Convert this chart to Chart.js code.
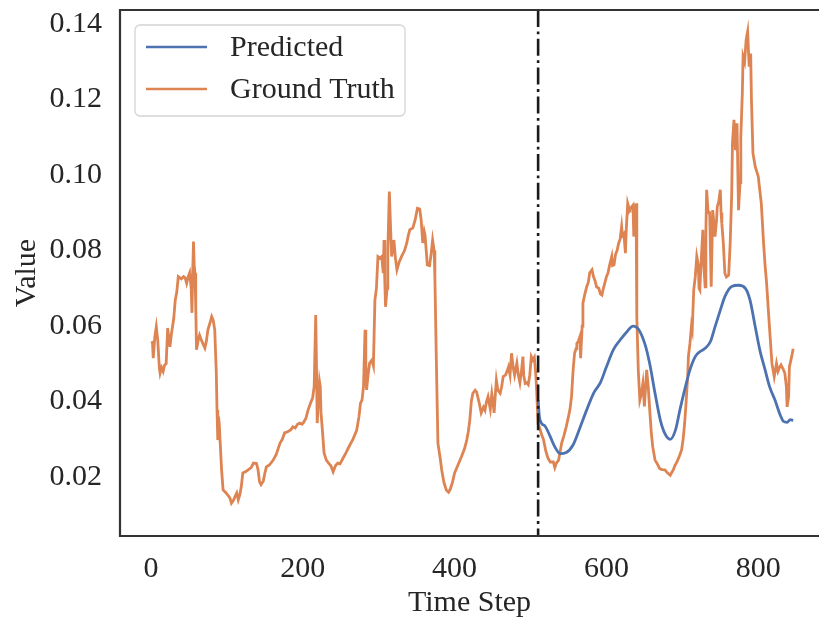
<!DOCTYPE html>
<html>
<head>
  <title>Predicted vs Ground Truth</title>
  <script src="https://cdn.jsdelivr.net/npm/chart.js"></script>
  <style>
    html, body { margin: 0; padding: 0; background: #fff; overflow: hidden; }
  </style>
</head>
<body>
  <canvas id="seriesChart" width="819" height="628"></canvas>

  <script>
    // values
    const truthSteps = [
      1, 2, 3, 5, 7, 9, 11, 12, 14, 16, 18, 20, 22, 24, 25, 27, 30, 32, 34, 36,
      40, 43, 45, 47, 49, 51, 53, 54, 55, 56, 57, 58, 59, 60, 62, 64, 67, 71, 73, 75,
      78, 80, 82, 84, 86, 87, 88, 89, 90, 91, 93, 95, 99, 102, 104, 106, 109, 111, 113, 115,
      117, 119, 121, 125, 128, 132, 135, 139, 141, 143, 145, 148, 150, 152, 156, 161, 165, 170, 173, 176,
      180, 184, 187, 190, 193, 196, 199, 201, 204, 207, 210, 213, 215, 217, 218, 219, 221, 222, 223, 224,
      226, 228, 231, 234, 237, 240, 243, 246, 249, 253, 257, 262, 266, 271, 274, 276, 278, 280, 282, 283,
      284, 286, 288, 291, 293, 295, 297, 299, 302, 304, 306, 307, 308, 309, 311, 312, 314, 316, 317, 319,
      320, 322, 324, 327, 330, 334, 337, 339, 341, 345, 348, 351, 354, 356, 358, 360, 361, 363, 364, 367,
      369, 371, 373, 374, 376, 378, 381, 383, 386, 389, 392, 394, 397, 400, 404, 409, 413, 416, 418, 420,
      422, 424, 427, 429, 432, 435, 438, 440, 442, 444, 447, 449, 451, 452, 454, 455, 457, 460, 462, 464,
      467, 469, 471, 473, 475, 477, 479, 482, 484, 486, 488, 490, 491, 493, 495, 497, 499, 501, 503, 505,
      507, 508, 510, 512, 515, 517, 520, 523, 526, 530, 532, 534, 537, 541, 544, 547, 550, 552, 554, 556,
      558, 560, 561, 563, 565, 566, 568, 569, 571, 574, 576, 578, 581, 583, 585, 587, 590, 592, 594, 596,
      598, 600, 602, 604, 607, 608, 610, 612, 614, 616, 618, 620, 621, 623, 625, 626, 628, 630, 631, 633,
      635, 636, 637, 639, 640, 642, 644, 646, 648, 650, 651, 653, 655, 657, 659, 661, 664, 667, 670, 673,
      677, 680, 684, 686, 688, 690, 693, 696, 699, 701, 703, 705, 707, 708, 710, 712, 713, 715, 717, 719,
      721, 722, 723, 725, 727, 728, 730, 731, 732, 734, 736, 737, 738, 740, 742, 743, 745, 746, 748, 750,
      751, 752, 754, 756, 758, 761, 763, 765, 766, 768, 770, 772, 774, 776, 777, 779, 780, 782, 784, 786,
      788, 790, 791, 793, 796, 800, 802, 804, 807, 809, 811, 813, 815, 818, 821, 824, 826, 828, 830, 833,
      835, 837, 838, 840, 841, 844, 846
    ];
    const truthValues = [
      0.0560, 0.0555, 0.0515, 0.0570, 0.0598, 0.0560, 0.0490, 0.0475, 0.0490, 0.0480, 0.0497, 0.0500, 0.0595, 0.0560, 0.0545, 0.0580, 0.0620, 0.0669, 0.0690, 0.0731,
      0.0725, 0.0731, 0.0728, 0.0713, 0.0730, 0.0741, 0.0700, 0.0635, 0.0740, 0.0824, 0.0760, 0.0740, 0.0650, 0.0537, 0.0560, 0.0576, 0.0560, 0.0542, 0.0560, 0.0590,
      0.0610, 0.0625, 0.0615, 0.0590, 0.0480, 0.0378, 0.0298, 0.0360, 0.0340, 0.0298, 0.0220, 0.0166, 0.0158, 0.0150, 0.0145, 0.0131, 0.0140, 0.0150, 0.0158, 0.0140,
      0.0153, 0.0175, 0.0211, 0.0215, 0.0219, 0.0225, 0.0237, 0.0236, 0.0220, 0.0188, 0.0180, 0.0190, 0.0210, 0.0227, 0.0232, 0.0245, 0.0260, 0.0290, 0.0300, 0.0317,
      0.0320, 0.0325, 0.0333, 0.0330, 0.0340, 0.0343, 0.0340, 0.0345, 0.0355, 0.0378, 0.0395, 0.0410, 0.0440, 0.0629, 0.0500, 0.0343, 0.0420, 0.0453, 0.0440, 0.0370,
      0.0320, 0.0264, 0.0245, 0.0237, 0.0230, 0.0214, 0.0230, 0.0237, 0.0235, 0.0250, 0.0265, 0.0285, 0.0300, 0.0324, 0.0360, 0.0396, 0.0404, 0.0440, 0.0590, 0.0500,
      0.0431, 0.0470, 0.0502, 0.0510, 0.0495, 0.0669, 0.0700, 0.0784, 0.0780, 0.0784, 0.0740, 0.0828, 0.0720, 0.0651, 0.0700, 0.0800, 0.0956, 0.0840, 0.0784, 0.0810,
      0.0828, 0.0780, 0.0749, 0.0770, 0.0784, 0.0800, 0.0820, 0.0840, 0.0855, 0.0860, 0.0881, 0.0912, 0.0910, 0.0880, 0.0820, 0.0850, 0.0841, 0.0790, 0.0762, 0.0760,
      0.0790, 0.0828, 0.0800, 0.0731, 0.0500, 0.0290, 0.0250, 0.0219, 0.0185, 0.0166, 0.0160, 0.0167, 0.0185, 0.0211, 0.0230, 0.0254, 0.0275, 0.0298, 0.0320, 0.0351,
      0.0400, 0.0422, 0.0430, 0.0425, 0.0400, 0.0370, 0.0385, 0.0377, 0.0400, 0.0413, 0.0380, 0.0420, 0.0390, 0.0370, 0.0430, 0.0457, 0.0430, 0.0422, 0.0440, 0.0466,
      0.0470, 0.0480, 0.0492, 0.0470, 0.0528, 0.0492, 0.0470, 0.0502, 0.0470, 0.0450, 0.0480, 0.0519, 0.0470, 0.0448, 0.0450, 0.0445, 0.0470, 0.0519, 0.0510, 0.0517,
      0.0470, 0.0431, 0.0340, 0.0330, 0.0310, 0.0300, 0.0270, 0.0250, 0.0240, 0.0240, 0.0225, 0.0237, 0.0245, 0.0290, 0.0310, 0.0333, 0.0360, 0.0380, 0.0413, 0.0480,
      0.0528, 0.0540, 0.0554, 0.0560, 0.0572, 0.0515, 0.0600, 0.0660, 0.0680, 0.0704, 0.0715, 0.0741, 0.0749, 0.0730, 0.0720, 0.0704, 0.0700, 0.0685, 0.0682, 0.0700,
      0.0715, 0.0731, 0.0740, 0.0760, 0.0784, 0.0760, 0.0762, 0.0790, 0.0800, 0.0819, 0.0830, 0.0863, 0.0840, 0.0845, 0.0793, 0.0850, 0.0925, 0.0910, 0.0908, 0.0915,
      0.0920, 0.0837, 0.0880, 0.0925, 0.0625, 0.0480, 0.0404, 0.0420, 0.0448, 0.0387, 0.0420, 0.0484, 0.0440, 0.0378, 0.0320, 0.0280, 0.0245, 0.0235, 0.0223, 0.0220,
      0.0219, 0.0212, 0.0205, 0.0212, 0.0219, 0.0230, 0.0241, 0.0255, 0.0272, 0.0300, 0.0342, 0.0400, 0.0466, 0.0520, 0.0554, 0.0600, 0.0590, 0.0696, 0.0730, 0.0784,
      0.0762, 0.0700, 0.0696, 0.0780, 0.0855, 0.0770, 0.0704, 0.0850, 0.0961, 0.0900, 0.0900, 0.0800, 0.0704, 0.0907, 0.0860, 0.0837, 0.0880, 0.0916, 0.0930, 0.0961,
      0.0900, 0.0872, 0.0819, 0.0740, 0.0730, 0.0735, 0.0819, 0.0950, 0.1084, 0.1146, 0.1066, 0.1137, 0.0907, 0.0980, 0.1100, 0.1217, 0.1314, 0.1300, 0.1358, 0.1380,
      0.1287, 0.1322, 0.1200, 0.1058, 0.1022, 0.0996, 0.0960, 0.0925, 0.0819, 0.0760, 0.0713, 0.0650, 0.0590, 0.0501, 0.0466, 0.0501, 0.0480, 0.0490, 0.0497, 0.0485,
      0.0475, 0.0440, 0.0386, 0.0413, 0.0492, 0.0519, 0.0540
    ];
    const predSteps = [
      510, 512, 519, 526, 532, 539, 547, 556, 565, 574, 583, 592, 600, 609, 618, 627, 635, 642, 651, 657,
      664, 671, 677, 684, 691, 697, 704, 710, 717, 723, 730, 737, 743, 750, 756, 765, 774, 783, 789, 796,
      802, 809, 815, 822, 829, 833, 838, 842, 846
    ];
    const predValues = [
      0.0404, 0.0355, 0.0335, 0.0307, 0.0280, 0.0262, 0.0265, 0.0285, 0.0330, 0.0378, 0.0422, 0.0450, 0.0492, 0.0537, 0.0563, 0.0585, 0.0600, 0.0592, 0.0550, 0.0500,
      0.0422, 0.0351, 0.0315, 0.0300, 0.0325, 0.0380, 0.0439, 0.0484, 0.0519, 0.0532, 0.0541, 0.0559, 0.0598, 0.0642, 0.0678, 0.0705, 0.0708, 0.0700, 0.0670, 0.0598,
      0.0537, 0.0484, 0.0439, 0.0404, 0.0364, 0.0348, 0.0345, 0.0352, 0.0350
    ];
    const splitStep = 510;
    const xTicks = [0, 200, 400, 600, 800];
    const yTicks = [0.02, 0.04, 0.06, 0.08, 0.10, 0.12, 0.14];

    const serif = "'Liberation Serif', 'Times New Roman', serif";
    const textColor = '#262626';
    const frameColor = '#333333';
    const fontSize = 30;

    const toPoints = (xs, ys) => xs.map((x, i) => ({ x: x, y: ys[i] }));

    // frame (left, top, bottom), dash-dot split line and the boxed legend
    const decorations = {
      id: 'decorations',
      afterDatasetsDraw(chart) {
        const { ctx, chartArea: a, scales } = chart;
        const sx = scales.x.getPixelForValue(splitStep);
        ctx.save();
        ctx.strokeStyle = '#1a1a1a';
        ctx.lineWidth = 2.6;
        ctx.setLineDash([17, 4.5, 2.8, 4.5]);
        ctx.beginPath();
        ctx.moveTo(sx, a.top);
        ctx.lineTo(sx, a.bottom);
        ctx.stroke();
        ctx.restore();
      },
      afterDraw(chart) {
        const { ctx, chartArea: a } = chart;
        ctx.save();
        ctx.strokeStyle = frameColor;
        ctx.lineWidth = 2.2;
        ctx.beginPath();
        ctx.moveTo(a.right + 2, a.top);
        ctx.lineTo(a.left, a.top);
        ctx.lineTo(a.left, a.bottom);
        ctx.lineTo(a.right + 2, a.bottom);
        ctx.stroke();

        // legend box
        const bx = 135, by = 25, bw = 270, bh = 91, r = 5;
        ctx.fillStyle = 'rgba(255,255,255,0.85)';
        ctx.strokeStyle = '#d4d4d4';
        ctx.lineWidth = 1.3;
        ctx.beginPath();
        ctx.roundRect(bx, by, bw, bh, r);
        ctx.fill();
        ctx.stroke();

        ctx.font = fontSize + 'px ' + serif;
        ctx.textBaseline = 'middle';
        ctx.fillStyle = textColor;
        chart.data.datasets.forEach((ds, i) => {
          const ly = 47 + i * 42;
          ctx.strokeStyle = ds.borderColor;
          ctx.lineWidth = 2.5;
          ctx.beginPath();
          ctx.moveTo(146, ly);
          ctx.lineTo(207, ly);
          ctx.stroke();
          ctx.fillText(ds.label, 230, ly + 1);
        });
        ctx.restore();
      }
    };

    const ctx = document.getElementById('seriesChart').getContext('2d');
    const chart = new Chart(ctx, {
      type: 'line',
      data: {
        datasets: [{
          label: 'Predicted',
          data: toPoints(predSteps, predValues),
          borderColor: '#4C72B0',
          borderWidth: 2.8,
          pointRadius: 0,
          cubicInterpolationMode: 'monotone',
          order: 1
        }, {
          label: 'Ground Truth',
          data: toPoints(truthSteps, truthValues),
          borderColor: '#DD8452',
          borderWidth: 2.8,
          pointRadius: 0,
          tension: 0,
          order: 2
        }]
      },
      options: {
        responsive: false,
        animation: false,
        devicePixelRatio: 1,
        layout: { padding: { top: 10, left: 0, right: 0, bottom: 0 } },
        plugins: {
          legend: { display: false },
          tooltip: { enabled: false }
        },
        scales: {
          x: {
            type: 'linear',
            min: -40.8,
            max: 880,
            afterFit: (scale) => {
              scale.height = 92;
              scale.paddingLeft = 0;
              scale.paddingRight = 0;
            },
            afterBuildTicks: (scale) => { scale.ticks = xTicks.map(v => ({ value: v })); },
            grid: { display: false, drawTicks: false },
            border: { display: false },
            ticks: {
              padding: 15,
              color: textColor,
              font: { family: serif, size: fontSize },
              maxRotation: 0,
              callback: (v) => String(v)
            },
            title: {
              display: true,
              text: 'Time Step',
              color: textColor,
              font: { family: serif, size: fontSize },
              padding: { top: 0, bottom: 7 }
            }
          },
          y: {
            type: 'linear',
            min: 0.0044,
            max: 0.1437,
            afterFit: (scale) => {
              scale.width = 120;
              scale.paddingTop = 0;
              scale.paddingBottom = 0;
            },
            afterBuildTicks: (scale) => { scale.ticks = yTicks.map(v => ({ value: v })); },
            grid: { display: false, drawTicks: false },
            border: { display: false },
            ticks: {
              padding: 18,
              color: textColor,
              font: { family: serif, size: fontSize },
              callback: (v) => v.toFixed(2)
            },
            title: {
              display: true,
              text: 'Value',
              color: textColor,
              font: { family: serif, size: fontSize },
              padding: { top: 9, bottom: 0 }
            }
          }
        }
      },
      plugins: [decorations]
    });
  </script>
</body>
</html>
